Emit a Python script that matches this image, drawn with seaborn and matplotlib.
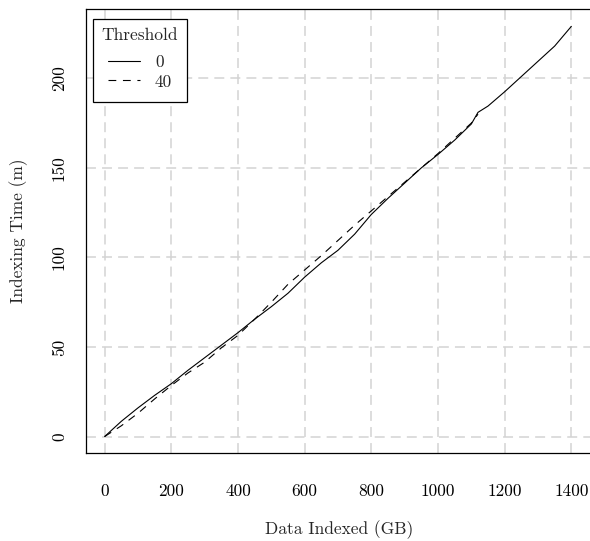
import numpy as np
import pandas as pd
import matplotlib
matplotlib.use("Agg")
import matplotlib.pyplot as plt
from matplotlib.offsetbox import DrawingArea
import seaborn as sns

# Threshold 0 (solid)
x_t0 = [0, 50, 100, 150, 200, 250, 300, 350, 400, 450, 500, 550, 600, 650, 700,
        750, 800, 850, 900, 950, 1000, 1050, 1100, 1120, 1150, 1200, 1250, 1300,
        1350, 1400]
y_t0 = [0, 8.5, 16, 23, 29.5, 37, 44, 51, 58, 65.5, 72.5, 80, 89, 97, 104,
        113, 124, 133, 141.5, 150, 157.5, 165.5, 174.5, 181, 184.5, 192.5, 201,
        209.5, 218, 229]

# Threshold 40 (dashed)
x_t40 = [0, 50, 100, 150, 200, 250, 300, 350, 400, 450, 500, 550, 600, 650, 700,
         750, 800, 850, 900, 950, 1000, 1050, 1100, 1120]
y_t40 = [0, 6, 13, 21, 28.5, 35.5, 41.5, 49.5, 56.5, 65.5, 75, 85, 93, 101, 109.5,
         118, 126, 134, 142, 150, 158, 166.5, 175, 180]

threshold_labels = ["0", "40"]
x_ticks = [0, 200, 400, 600, 800, 1000, 1200, 1400]
y_ticks = [0, 50, 100, 150, 200]

df = pd.concat([
    pd.DataFrame({"Data Indexed (GB)": x_t0, "Indexing Time (m)": y_t0,
                  "Threshold": threshold_labels[0]}),
    pd.DataFrame({"Data Indexed (GB)": x_t40, "Indexing Time (m)": y_t40,
                  "Threshold": threshold_labels[1]}),
], ignore_index=True)

sns.set_style("white")
plt.rcParams["font.family"] = ["cmr10", "DejaVu Serif"]
plt.rcParams["axes.formatter.use_mathtext"] = True
plt.rcParams["mathtext.fontset"] = "cm"

FS = 12.5
W, H = 590, 541
fig = plt.figure(figsize=(W / 100, H / 100), dpi=100)
ax_l, ax_r, ax_t, ax_b = 86, 592, 9, 453
ax = fig.add_axes([ax_l / W, 1 - ax_b / H, (ax_r - ax_l) / W, (ax_b - ax_t) / H])

grid_kw = dict(color="#d3d3d3", linestyle=(0, (6.5, 4)), linewidth=1.1, zorder=0)
for xv in x_ticks:
    ax.axvline(xv, **grid_kw)
for yv in y_ticks:
    ax.axhline(yv, **grid_kw)

sns.lineplot(data=df, x="Data Indexed (GB)", y="Indexing Time (m)",
             style="Threshold", color="black", linewidth=0.8,
             dashes={"0": "", "40": (7, 6)}, estimator=None, sort=False,
             legend=True, ax=ax, zorder=3)

ax.set_xlim(-56, 1462)
ax.set_ylim(-9.2, 238.7)
ax.set_xticks(x_ticks)
ax.set_yticks(y_ticks)
ax.set_xticklabels([str(v) for v in x_ticks], fontsize=FS)
ax.set_yticklabels([str(v) for v in y_ticks], fontsize=FS, rotation=90,
                   va="center")
ax.tick_params(axis="both", which="major", direction="out", length=7.2,
               width=1.1, color="#808080", labelcolor="black")
ax.tick_params(axis="x", pad=14.7)
ax.tick_params(axis="y", pad=6.5)

ax.set_xlabel("Data Indexed (GB)", fontsize=FS)
ax.set_ylabel("Indexing Time (m)", fontsize=FS)
ax.xaxis.label.set_va("center")
ax.yaxis.label.set_va("center")
ax.xaxis.set_label_coords(0.5, -(529.5 - ax_b) / (ax_b - ax_t))
ax.yaxis.set_label_coords(-(ax_l - 19) / (ax_r - ax_l), 0.5)

for side in ["left", "bottom", "top", "right"]:
    ax.spines[side].set_visible(True)
    ax.spines[side].set_color("black")
    ax.spines[side].set_linewidth(0.9)

handles, labels = ax.get_legend_handles_labels()
leg = ax.legend(handles=handles, labels=labels, title="Threshold",
                loc="upper left",
                bbox_to_anchor=(93.2 / W, 1 - 19.3 / H),
                bbox_transform=fig.transFigure,
                borderaxespad=0, fontsize=FS, title_fontsize=FS, frameon=True,
                fancybox=False, edgecolor="black", framealpha=1,
                handlelength=1.87, borderpad=0.49, labelspacing=0.253,
                handletextpad=0.85)
leg.get_frame().set_linewidth(0.9)
# R-style legend spacing: more room under the title and below the last row
leg._legend_box.sep = 8.2
col = leg._legend_handle_box.get_children()[0]
col._children.append(DrawingArea(0, 0))

fig.savefig("out.png", dpi=100)
